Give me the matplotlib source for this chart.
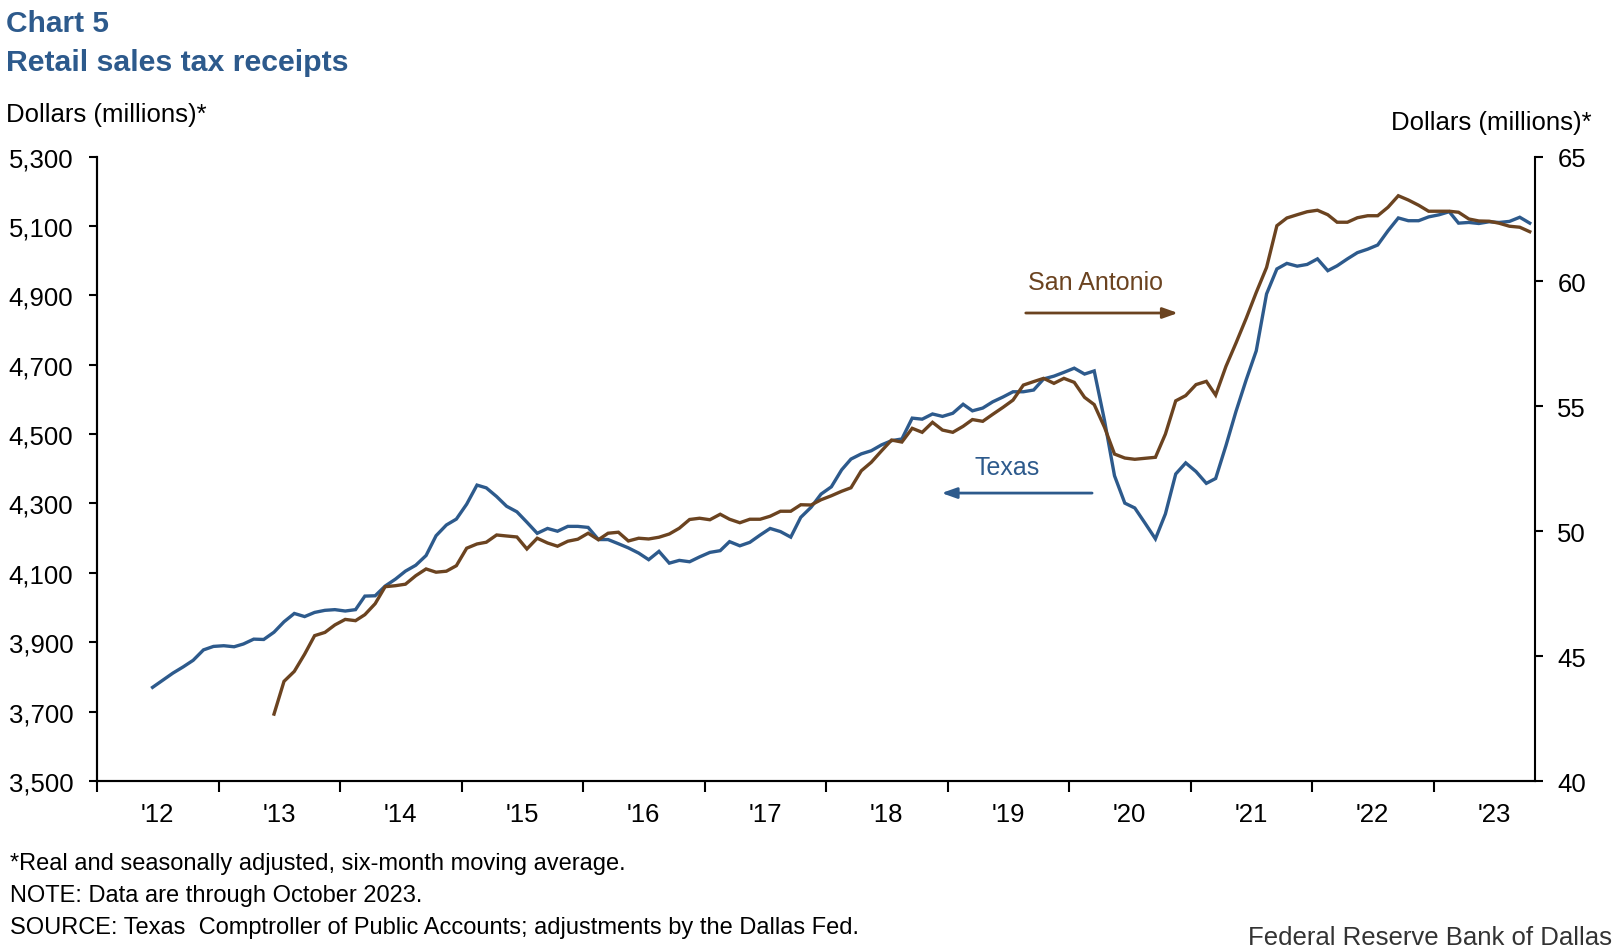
import matplotlib.pyplot as plt
import pandas as pd
from datetime import datetime

plt.rcParams['font.family'] = ['Liberation Sans', 'DejaVu Sans']

# Texas, dollars (millions), six-month moving average, Jun 2012 - Oct 2023
texas = [
    3770, 3790, 3811, 3829, 3848, 3878, 3888, 3890, 3887, 3895, 3909, 3908,
    3929, 3959, 3983, 3974, 3986, 3992, 3994, 3990, 3994, 4033, 4034, 4062,
    4082, 4105, 4122, 4150, 4207, 4238, 4255, 4298, 4353, 4345, 4320, 4292,
    4276, 4246, 4214, 4228, 4220, 4234, 4234, 4231, 4196, 4196, 4184, 4172,
    4157, 4138, 4162, 4128, 4136, 4132, 4146, 4159, 4164, 4190, 4178, 4188,
    4209, 4228, 4219, 4203, 4260, 4289, 4327, 4348, 4397, 4428, 4443, 4452,
    4469, 4481, 4486, 4546, 4543, 4558, 4551, 4560, 4586, 4567, 4575, 4593,
    4607, 4622, 4622, 4627, 4659, 4667, 4678, 4690, 4673, 4682, 4539, 4380,
    4301, 4287, 4243, 4198, 4270, 4385, 4417, 4392, 4358, 4372, 4467, 4565,
    4657, 4740, 4904, 4976, 4992, 4984, 4989, 5005, 4971, 4985, 5005, 5023,
    5033, 5045, 5086, 5123, 5115, 5115, 5126, 5132, 5141, 5108, 5110, 5107,
    5112, 5110, 5113, 5125, 5108,
]
texas_dates = pd.date_range('2012-06-01', '2023-10-01', freq='MS') + pd.Timedelta(days=15)

# San Antonio, dollars (millions), Jun 2013 - Oct 2023
san_antonio = [
    42.68, 43.99, 44.39, 45.08, 45.82, 45.95, 46.25, 46.47, 46.42, 46.66, 47.10, 47.78,
    47.82, 47.88, 48.22, 48.49, 48.36, 48.40, 48.62, 49.32, 49.49, 49.56, 49.85, 49.81,
    49.77, 49.29, 49.72, 49.53, 49.40, 49.60, 49.68, 49.92, 49.66, 49.92, 49.96, 49.61,
    49.72, 49.69, 49.76, 49.89, 50.12, 50.47, 50.52, 50.46, 50.68, 50.48, 50.34, 50.48,
    50.48, 50.60, 50.80, 50.80, 51.06, 51.05, 51.26, 51.42, 51.60, 51.74, 52.42, 52.76,
    53.22, 53.65, 53.57, 54.12, 53.96, 54.36, 54.05, 53.96, 54.20, 54.47, 54.40, 54.68,
    54.96, 55.25, 55.85, 55.99, 56.12, 55.92, 56.12, 55.96, 55.36, 55.07, 54.16, 53.09,
    52.93, 52.88, 52.92, 52.96, 53.89, 55.22, 55.43, 55.87, 56.00, 55.45, 56.60, 57.53,
    58.53, 59.56, 60.56, 62.23, 62.54, 62.67, 62.79, 62.85, 62.67, 62.37, 62.37, 62.55,
    62.63, 62.63, 62.97, 63.43, 63.26, 63.05, 62.81, 62.81, 62.81, 62.77, 62.50, 62.42,
    62.41, 62.33, 62.21, 62.17, 61.99,
]
sa_dates = pd.date_range('2013-06-01', '2023-10-01', freq='MS') + pd.Timedelta(days=15)

years = list(range(2012, 2024))
year_labels = ["'" + str(y)[2:] for y in years]
left_ticks = list(range(3500, 5301, 200))
right_ticks = list(range(40, 66, 5))

blue = '#2d5a8c'
brown = '#6b4320'

fig = plt.figure(figsize=(16.14, 9.53), dpi=100)
ax = fig.add_axes([0.0601, 0.1794, 0.8910, 0.6553])
ax2 = ax.twinx()

ax.plot(texas_dates, texas, color=blue, lw=2.4, solid_joinstyle='miter')
ax2.plot(sa_dates, san_antonio, color=brown, lw=2.4, solid_joinstyle='miter')

ax.set_xlim(datetime(2012, 1, 1), datetime(2023, 11, 1))
ax.set_ylim(3500, 5300)
ax2.set_ylim(40, 65)
ax.set_yticks(left_ticks)
ax.set_yticklabels([f'{v:,}' for v in left_ticks])
ax2.set_yticks(right_ticks)

ax.set_xticks([datetime(y, 1, 1) for y in years])
ax.set_xticklabels([])
ax.set_xticks([datetime(y, 7, 1) for y in years], minor=True)
ax.set_xticklabels(year_labels, minor=True)

for a in (ax, ax2):
    a.spines['top'].set_visible(False)
    for s in ('left', 'right', 'bottom'):
        a.spines[s].set_linewidth(1.5)
ax.spines['right'].set_visible(False)

ax.tick_params(axis='y', direction='out', length=6, width=1.5, pad=11, labelsize=18.5)
ax2.tick_params(axis='y', direction='out', length=6, width=1.5, pad=10, labelsize=18.5)
ax.tick_params(axis='x', which='major', direction='out', length=8, width=1.5)
ax.tick_params(axis='x', which='minor', length=0, pad=15, labelsize=18.5)

# series labels with arrows
ax.text(datetime(2019, 6, 28), 4405, 'Texas', color=blue, fontsize=18, ha='center', va='center')
ax.annotate('', xy=(datetime(2018, 12, 5), 4330), xytext=(datetime(2020, 3, 18), 4330),
            arrowprops=dict(arrowstyle='-|>,head_length=0.9,head_width=0.32', color=blue, lw=2))
ax.text(datetime(2020, 3, 20), 4938, 'San Antonio', color=brown, fontsize=18, ha='center', va='center')
ax.annotate('', xy=(datetime(2020, 12, 1), 4849), xytext=(datetime(2019, 8, 15), 4849),
            arrowprops=dict(arrowstyle='-|>,head_length=0.9,head_width=0.32', color=brown, lw=2))

H = 953
fig.text(6 / 1614, 1 - 32 / H, 'Chart 5', color=blue, fontsize=21.5, fontweight='bold', va='baseline')
fig.text(6 / 1614, 1 - 71 / H, 'Retail sales tax receipts', color=blue, fontsize=21.8,
         fontweight='bold', va='baseline')
fig.text(6 / 1614, 1 - 122 / H, 'Dollars (millions)*', fontsize=18.5, va='baseline')
fig.text(1592 / 1614, 1 - 130 / H, 'Dollars (millions)*', fontsize=18.5, va='baseline', ha='right')

notes = ['*Real and seasonally adjusted, six-month moving average.',
         'NOTE: Data are through October 2023.',
         'SOURCE: Texas  Comptroller of Public Accounts; adjustments by the Dallas Fed.']
for i, line in enumerate(notes):
    fig.text(10 / 1614, 1 - (870 + 32 * i) / H, line, fontsize=17, va='baseline')
fig.text(1612 / 1614, 1 - 945 / H, 'Federal Reserve Bank of Dallas', fontsize=18.5,
         color='#333333', ha='right', va='baseline')

fig.savefig('out.png', dpi=100)
